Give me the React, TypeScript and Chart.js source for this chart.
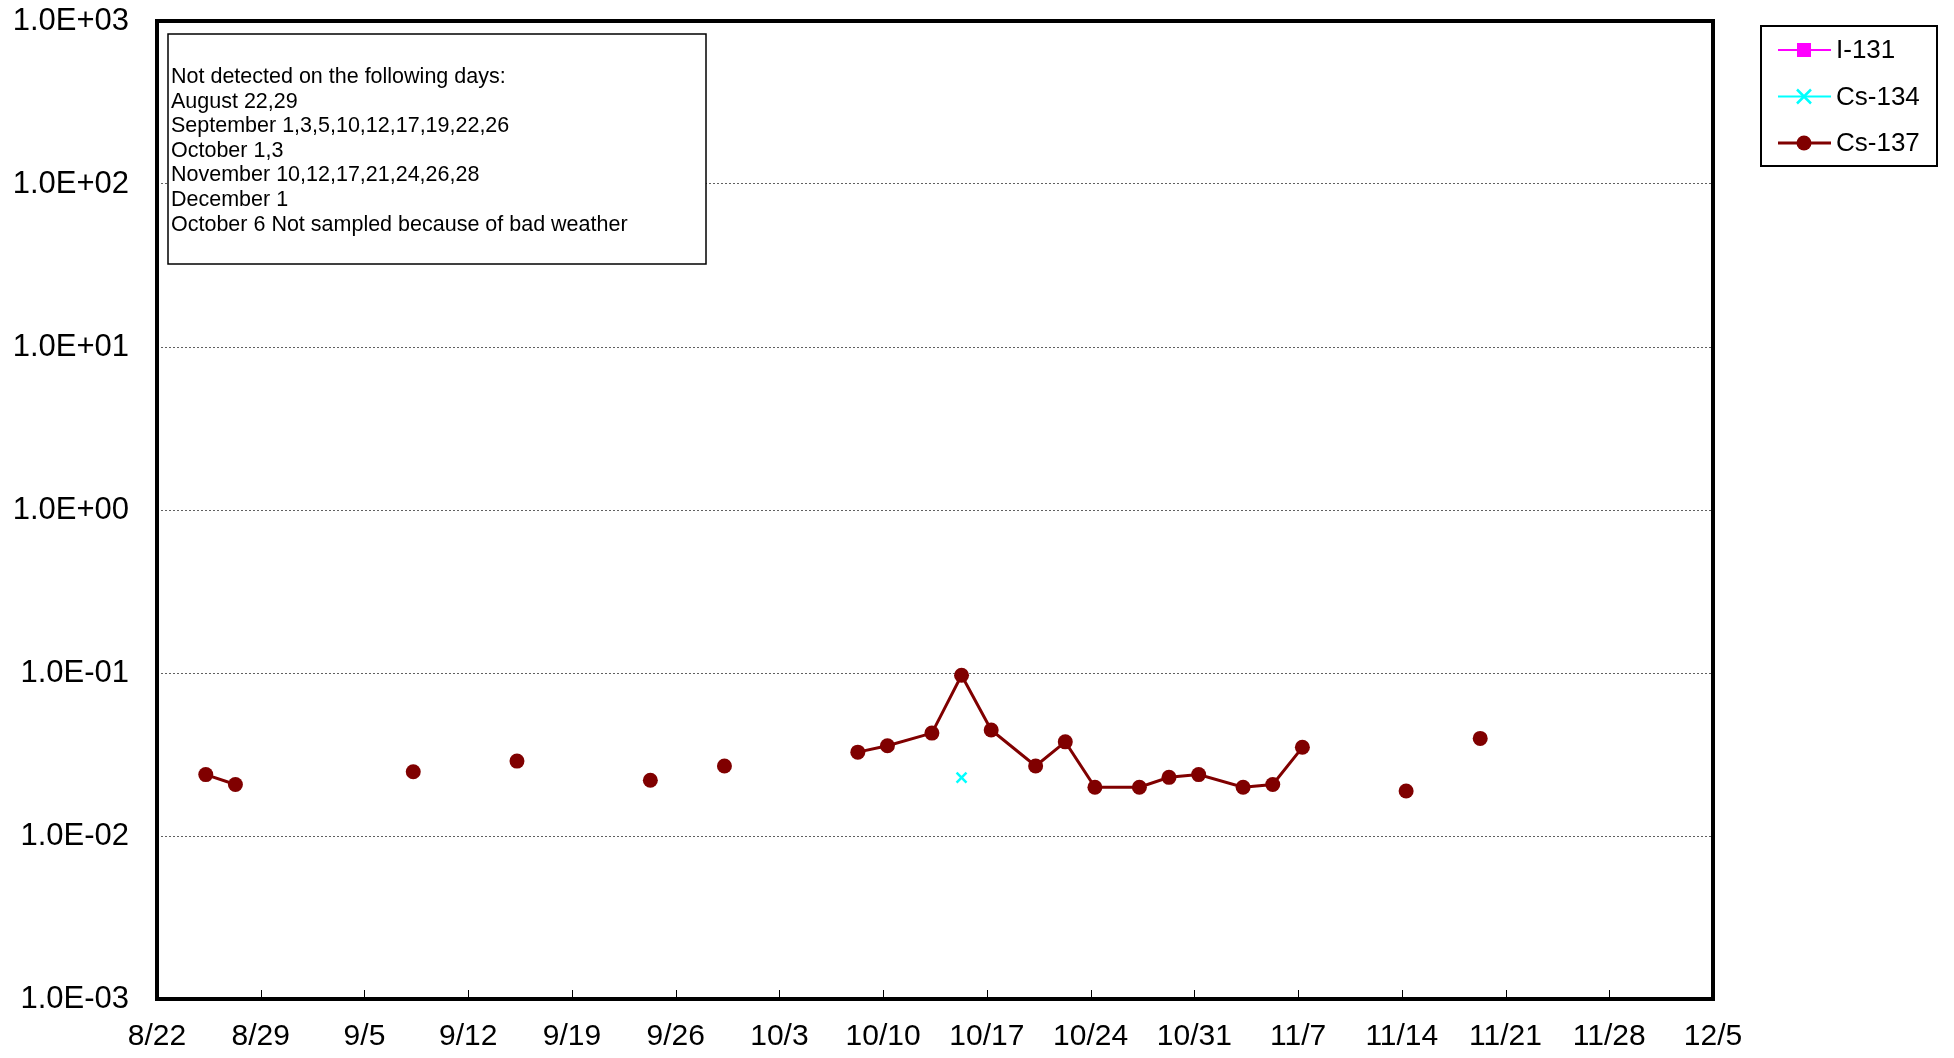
import React, { useEffect, useRef } from "react";
import { Chart, registerables } from "chart.js";

Chart.register(...registerables);

// ---------- data ----------
const AXIS_START = "8/22";
const X_TICK_LABELS = ["8/22", "8/29", "9/5", "9/12", "9/19", "9/26", "10/3", "10/10", "10/17", "10/24", "10/31", "11/7", "11/14", "11/21", "11/28", "12/5"];
const Y_TICK_VALUES = [1e-3, 1e-2, 1e-1, 1, 10, 100, 1000];

// null = not detected / not sampled (breaks the line)
const CS137_DATES = ["8/25", "8/27", "8/29", "9/1", "9/3", "9/5", "9/8", "9/10", "9/12", "9/15", "9/17", "9/19", "9/22", "9/24", "9/26", "9/29", "10/1", "10/3", "10/6", "10/8", "10/10", "10/13", "10/15", "10/17", "10/20", "10/22", "10/24", "10/27", "10/29", "10/31", "11/3", "11/5", "11/7", "11/10", "11/12", "11/14", "11/17", "11/19", "11/21"];
const CS137_VALUES: (number | null)[] = [0.0238, 0.0207, null, null, null, null, 0.0248, null, null, 0.0288, null, null, null, 0.022, null, 0.0269, null, null, null, 0.0327, 0.0358, 0.0428, 0.0968, 0.0447, 0.0269, 0.0378, 0.0199, 0.0199, 0.0229, 0.0238, 0.0199, 0.0207, 0.035, null, null, 0.0189, null, 0.0397, null];

const CS134_DATES = ["10/15"];
const CS134_VALUES = [0.0228];

const I131_DATES: string[] = [];
const I131_VALUES: number[] = [];

const SAMPLE_HOUR = 7; // approximate sampling time of day

const NOTE_LINES = [
  "Not detected on the following days:",
  "August 22,29",
  "September 1,3,5,10,12,17,19,22,26",
  "October 1,3",
  "November 10,12,17,21,24,26,28",
  "December 1",
  "October 6 Not sampled because of bad weather",
];

const FONT = "'Liberation Sans', Arial, sans-serif";

function dayOffset(md: string): number {
  const [m, d] = md.split("/").map(Number);
  const [m0, d0] = AXIS_START.split("/").map(Number);
  return (Date.UTC(2011, m - 1, d) - Date.UTC(2011, m0 - 1, d0)) / 86400000;
}

function toPoints(dates: string[], values: (number | null)[]) {
  return dates.map((d, i) => ({ x: dayOffset(d) + SAMPLE_HOUR / 24, y: values[i] }));
}

function fmtE(v: number): string {
  const e = Math.round(Math.log10(v));
  const m = v / Math.pow(10, e);
  const s = e < 0 ? "-" : "+";
  return `${m.toFixed(1)}E${s}${String(Math.abs(e)).padStart(2, "0")}`;
}

// ---------- plugins ----------
const framePlugin = {
  id: "frame",
  afterDraw(chart: any) {
    const { ctx, chartArea } = chart;
    const xs = chart.scales.x;
    ctx.save();
    ctx.strokeStyle = "#000";
    ctx.lineWidth = 1;
    xs.ticks.forEach((t: any) => {
      const px = Math.round(xs.getPixelForValue(t.value)) + 0.5;
      ctx.beginPath();
      ctx.moveTo(px, chartArea.bottom);
      ctx.lineTo(px, chartArea.bottom - 9);
      ctx.stroke();
    });
    ctx.lineWidth = 4;
    ctx.strokeRect(chartArea.left, chartArea.top, chartArea.right - chartArea.left, chartArea.bottom - chartArea.top);
    ctx.restore();
  },
};

const notePlugin = {
  id: "noteBox",
  afterDraw(chart: any) {
    const { ctx } = chart;
    const x = 168, y = 34, w = 538, h = 230;
    ctx.save();
    ctx.fillStyle = "#fff";
    ctx.fillRect(x, y, w, h);
    ctx.strokeStyle = "#000";
    ctx.lineWidth = 1.5;
    ctx.strokeRect(x, y, w, h);
    ctx.fillStyle = "#000";
    ctx.font = `21.5px ${FONT}`;
    ctx.textBaseline = "middle";
    ctx.textAlign = "left";
    NOTE_LINES.forEach((line, i) => {
      ctx.fillText(line, x + 3, 77 + i * 24.6);
    });
    ctx.restore();
  },
};

function drawMarker(ctx: CanvasRenderingContext2D, style: string, cx: number, cy: number, r: number, fill: string, stroke: string, lw: number) {
  ctx.save();
  ctx.fillStyle = fill;
  ctx.strokeStyle = stroke;
  ctx.lineWidth = lw;
  if (style === "rect") {
    ctx.fillRect(cx - r, cy - r, 2 * r, 2 * r);
  } else if (style === "circle") {
    ctx.beginPath();
    ctx.arc(cx, cy, r, 0, Math.PI * 2);
    ctx.fill();
  } else if (style === "crossRot") {
    ctx.beginPath();
    ctx.moveTo(cx - r, cy - r);
    ctx.lineTo(cx + r, cy + r);
    ctx.moveTo(cx + r, cy - r);
    ctx.lineTo(cx - r, cy + r);
    ctx.stroke();
  }
  ctx.restore();
}

const legendPlugin = {
  id: "boxLegend",
  afterDraw(chart: any) {
    const { ctx } = chart;
    const bx = 1761, by = 26, bw = 176, bh = 140;
    ctx.save();
    ctx.fillStyle = "#fff";
    ctx.fillRect(bx, by, bw, bh);
    ctx.strokeStyle = "#000";
    ctx.lineWidth = 2;
    ctx.strokeRect(bx, by, bw, bh);
    const rows = [50, 96.5, 143];
    chart.data.datasets.forEach((ds: any, i: number) => {
      const y = rows[i];
      ctx.strokeStyle = ds.borderColor;
      ctx.lineWidth = ds.legendLineWidth;
      ctx.beginPath();
      ctx.moveTo(1778, y);
      ctx.lineTo(1831, y);
      ctx.stroke();
      const r = ds.pointStyle === "circle" ? 7.5 : 7;
      drawMarker(ctx, ds.pointStyle, 1804, y, r, ds.pointBackgroundColor, ds.pointBorderColor, 2.5);
      ctx.fillStyle = "#000";
      ctx.font = `26px ${FONT}`;
      ctx.textBaseline = "middle";
      ctx.textAlign = "left";
      ctx.fillText(ds.label, 1836, y + 1);
    });
    ctx.restore();
  },
};

export default function App() {
  const ref = useRef<HTMLCanvasElement | null>(null);

  useEffect(() => {
    document.body.style.margin = "0";
    if (!ref.current) return;
    const chart = new Chart(ref.current, {
      type: "line",
      data: {
        datasets: [
          {
            label: "I-131",
            data: toPoints(I131_DATES, I131_VALUES) as any,
            borderColor: "#ff00ff",
            backgroundColor: "#ff00ff",
            pointBackgroundColor: "#ff00ff",
            pointBorderColor: "#ff00ff",
            pointStyle: "rect",
            pointRadius: 7,
            borderWidth: 2,
            legendLineWidth: 2,
          } as any,
          {
            label: "Cs-134",
            data: toPoints(CS134_DATES, CS134_VALUES) as any,
            borderColor: "#00ffff",
            backgroundColor: "#00ffff",
            pointBackgroundColor: "#00ffff",
            pointBorderColor: "#00ffff",
            pointStyle: "crossRot",
            pointRadius: 7,
            pointBorderWidth: 2.5,
            borderWidth: 2,
            legendLineWidth: 2,
          } as any,
          {
            label: "Cs-137",
            data: toPoints(CS137_DATES, CS137_VALUES) as any,
            borderColor: "#800000",
            backgroundColor: "#800000",
            pointBackgroundColor: "#800000",
            pointBorderColor: "#800000",
            pointStyle: "circle",
            pointRadius: 7.5,
            pointBorderWidth: 0,
            borderWidth: 3,
            spanGaps: false,
            legendLineWidth: 3,
          } as any,
        ],
      },
      options: {
        animation: false,
        responsive: false,
        devicePixelRatio: 1,
        layout: { padding: { left: 0, top: 21, right: 241, bottom: 0 } },
        plugins: {
          legend: { display: false },
          tooltip: { enabled: false },
        },
        elements: { line: { tension: 0 } },
        scales: {
          x: {
            type: "linear",
            min: 0,
            max: dayOffset(X_TICK_LABELS[X_TICK_LABELS.length - 1]),
            afterBuildTicks: (scale: any) => {
              scale.ticks = X_TICK_LABELS.map((l) => ({ value: dayOffset(l) }));
            },
            afterFit: (scale: any) => {
              scale.height = 59;
              scale.paddingLeft = 0;
              scale.paddingRight = 0;
            },
            ticks: {
              autoSkip: false,
              maxRotation: 0,
              padding: 20,
              color: "#000",
              font: { family: FONT, size: 30 },
              callback: (_v: any, i: number) => X_TICK_LABELS[i],
            },
            grid: { display: false, drawTicks: false },
            border: { display: false },
          },
          y: {
            type: "logarithmic",
            min: 1e-3,
            max: 1e3,
            afterBuildTicks: (scale: any) => {
              scale.ticks = Y_TICK_VALUES.map((v) => ({ value: v }));
            },
            afterFit: (scale: any) => {
              scale.width = 157;
              scale.paddingTop = 0;
              scale.paddingBottom = 0;
            },
            ticks: {
              padding: 28,
              color: "#000",
              font: { family: FONT, size: 31 },
              callback: (v: any) => fmtE(Number(v)),
            },
            grid: {
              drawTicks: false,
              lineWidth: 1,
              color: (c: any) =>
                c.tick && (c.tick.value === 1e-3 || c.tick.value === 1e3) ? "rgba(0,0,0,0)" : "#606060",
            },
            border: { display: false, dash: [2, 2] },
          },
        },
      },
      plugins: [framePlugin, notePlugin, legendPlugin],
    });
    return () => chart.destroy();
  }, []);

  return (
    <div style={{ width: 1954, height: 1058, background: "#fff" }}>
      <canvas ref={ref} width={1954} height={1058} style={{ display: "block" }} />
    </div>
  );
}
